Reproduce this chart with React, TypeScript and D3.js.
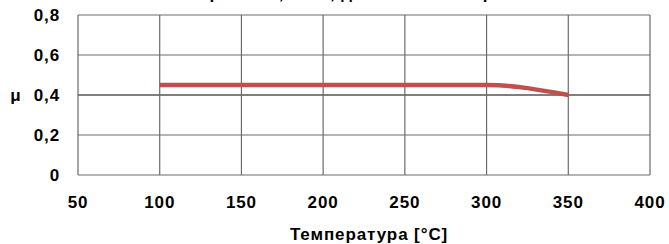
import { useEffect, useRef } from "react";
import * as d3 from "d3";

const temps = [100, 150, 200, 250, 300, 350];
const mu = [0.45, 0.45, 0.45, 0.45, 0.45, 0.4];
const xTicks = [50, 100, 150, 200, 250, 300, 350, 400];
const yTicks = [0, 0.2, 0.4, 0.6, 0.8];

export default function App() {
  const ref = useRef<SVGSVGElement>(null);

  useEffect(() => {
    const svg = d3.select(ref.current);
    svg.selectAll("*").remove();
    const width = 669;
    const height = 244;
    const margin = { top: 15, right: 19, bottom: 69, left: 78 };
    const innerWidth = width - margin.left - margin.right;
    const innerHeight = height - margin.top - margin.bottom;

    const x = d3.scaleLinear().domain([50, 400]).range([0, innerWidth]);
    const y = d3.scaleLinear().domain([0, 0.8]).range([innerHeight, 0]);

    const font = "'Liberation Sans', Arial, sans-serif";
    const label = (sel: any) =>
      sel
        .attr("font-family", font)
        .attr("font-weight", "bold")
        .attr("font-size", 17)
        .attr("letter-spacing", 0.9)
        .attr("fill", "#000");

    // title (cut off at the top in the original)
    svg
      .append("text")
      .text("Скорость 0,1 м/с, давление 10 бар")
      .attr("x", 335)
      .attr("y", -1)
      .attr("text-anchor", "middle")
      .call(label);

    const g = svg
      .append("g")
      .attr("transform", `translate(${margin.left}, ${margin.top})`);

    // grid
    g.selectAll(".hgrid")
      .data(yTicks)
      .enter()
      .append("line")
      .attr("x1", 0)
      .attr("x2", innerWidth)
      .attr("y1", (d) => y(d))
      .attr("y2", (d) => y(d))
      .attr("stroke", (d) => (d === 0.4 ? "#000" : "#6b6b6b"))
      .attr("stroke-width", 1.2);

    g.selectAll(".vgrid")
      .data(xTicks)
      .enter()
      .append("line")
      .attr("x1", (d) => x(d))
      .attr("x2", (d) => x(d))
      .attr("y1", 0)
      .attr("y2", innerHeight)
      .attr("stroke", "#6b6b6b")
      .attr("stroke-width", 1.2);

    // line
    const line = d3
      .line<number>()
      .x((d, i) => x(temps[i]))
      .y((d) => y(d))
      .curve(d3.curveMonotoneX);

    g.append("path")
      .datum(mu)
      .attr("d", line)
      .attr("fill", "none")
      .attr("stroke", "#c0504d")
      .attr("stroke-width", 4.5);

    // y tick labels
    g.selectAll(".ylab")
      .data(yTicks)
      .enter()
      .append("text")
      .text((d) => (d === 0 ? "0" : d3.format(".1f")(d).replace(".", ",")))
      .attr("x", -18)
      .attr("y", (d) => y(d))
      .attr("dy", "0.36em")
      .attr("text-anchor", "end")
      .call(label);

    // x tick labels
    g.selectAll(".xlab")
      .data(xTicks)
      .enter()
      .append("text")
      .text((d) => String(d))
      .attr("x", (d) => x(d))
      .attr("y", innerHeight + 33)
      .attr("text-anchor", "middle")
      .call(label);

    // axis titles
    svg
      .append("text")
      .text("μ")
      .attr("x", 16)
      .attr("y", margin.top + y(0.4))
      .attr("dy", "0.36em")
      .attr("text-anchor", "middle")
      .call(label);

    svg
      .append("text")
      .text("Температура [°C]")
      .attr("x", margin.left + innerWidth / 2 + 5)
      .attr("y", 240)
      .attr("text-anchor", "middle")
      .call(label);
  }, []);

  return (
    <svg
      ref={ref}
      width={669}
      height={244}
      style={{ position: "absolute", left: 0, top: 0, background: "#fff" }}
    />
  );
}
